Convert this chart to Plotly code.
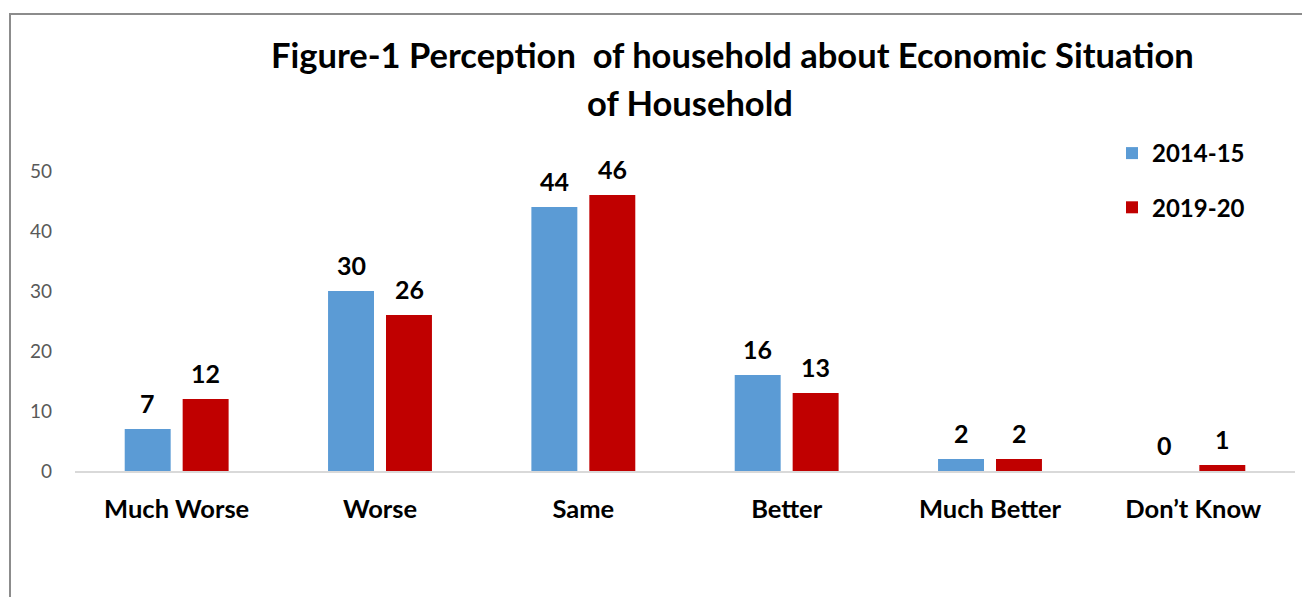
import plotly.graph_objects as go

categories = ["Much Worse", "Worse", "Same", "Better", "Much Better", "Don\u2019t Know"]
series_names = ["2014-15", "2019-20"]
values_2014 = [7, 30, 44, 16, 2, 0]
values_2019 = [12, 26, 46, 13, 2, 1]
y_ticks = [0, 10, 20, 30, 40, 50]

colors = ["#5b9bd5", "#c00000"]
FONT = "Lato"

# page body has an 8px margin; compensate so screen coords match
OFF = 8
W, H = 1310 - OFF, 597 - OFF
l, r, t, b = 75 - OFF, 15, 171 - OFF, 126
pw, ph = W - l - r, H - t - b


def px(x):
    return (x - OFF - l) / pw


def py(y):
    return (H - b - (y - OFF)) / ph


fig = go.Figure()
for name, vals, col in zip(series_names, [values_2014, values_2019], colors):
    fig.add_trace(go.Bar(x=categories, y=vals, name=f"<b>{name}</b>", marker_color=col,
                         marker_line_width=0, legendgroup=name))

annotations = []
for vals, shift in [(values_2014, -29), (values_2019, 29)]:
    for c, v in zip(categories, vals):
        annotations.append(dict(x=c, y=v, xref="x", yref="y", text=f"<b>{v}</b>",
                                showarrow=False, xshift=shift, yanchor="bottom", yshift=9,
                                font=dict(family=FONT, size=25, color="#000000")))

annotations.append(dict(x=px(732), y=py(55), xref="paper", yref="paper",
                        text="<b>Figure-1 Perception  of household about Economic Situation</b>",
                        showarrow=False, xanchor="center", yanchor="middle",
                        font=dict(family=FONT, size=34.5, color="#000000")))
annotations.append(dict(x=px(690), y=py(102), xref="paper", yref="paper",
                        text="<b>of Household</b>",
                        showarrow=False, xanchor="center", yanchor="middle",
                        font=dict(family=FONT, size=34.5, color="#000000")))

fig.update_layout(
    width=W, height=H,
    margin=dict(l=l, r=r, t=t, b=b),
    paper_bgcolor="white", plot_bgcolor="white",
    barmode="group", bargap=0.43, bargroupgap=0.207,
    font=dict(family=FONT, color="#000000"),
    showlegend=True,
    legend=dict(x=px(1112), y=py(131), xref="paper", yref="paper", xanchor="left", yanchor="top",
                font=dict(family=FONT, size=24, color="#000000"),
                traceorder="grouped", tracegroupgap=20, bgcolor="rgba(0,0,0,0)"),
    annotations=annotations,
)

fig.update_xaxes(showgrid=False, showline=True, linecolor="#d9d9d9", linewidth=2,
                 ticks="", tickfont=dict(family=FONT, size=25.5, color="#000000"),
                 ticklabelstandoff=14, tickprefix="<b>", ticksuffix="</b>")
fig.update_yaxes(range=[0, 50], tickvals=y_ticks, showgrid=False, showline=False,
                 zeroline=False, ticks="",
                 tickfont=dict(family=FONT, size=19, color="#595959"),
                 ticklabelstandoff=22)

# chart border
fig.add_shape(type="rect", xref="paper", yref="paper",
              x0=px(10), y0=py(640), x1=px(1350), y1=py(14),
              line=dict(color="#8c8c8c", width=2), fillcolor="rgba(0,0,0,0)", layer="below")

fig.write_html("out.html")
